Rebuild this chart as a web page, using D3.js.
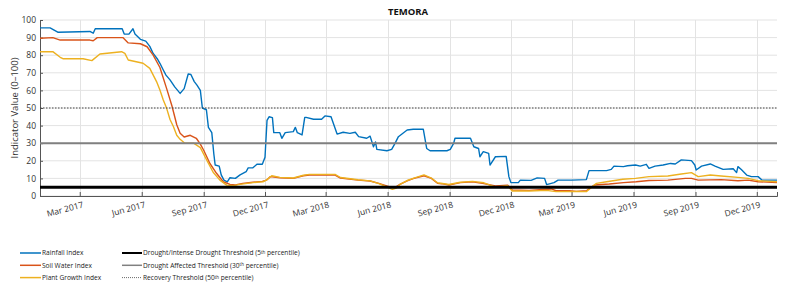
<!DOCTYPE html>
<html><head><meta charset="utf-8">
<script src="https://cdn.jsdelivr.net/npm/d3@7"></script>
<style>
body{margin:0;background:#fff;}
text{font-family:"Open Sans",sans-serif;}
</style></head>
<body>
<svg id="chart" width="800" height="292"></svg>
<script>
const title = "TEMORA";
const yLabel = "Indicator Value (0–100)";
const yTicks = [0,10,20,30,40,50,60,70,80,90,100];
const xTickDates = ["2017-03-01","2017-06-01","2017-09-01","2017-12-01","2018-03-01","2018-06-01","2018-09-01","2018-12-01","2019-03-01","2019-06-01","2019-09-01","2019-12-01"];
const xDomain = ["2017-01-01","2019-12-31"];
const seriesNames = ["Rainfall Index","Soil Water Index","Plant Growth Index"];
const thresholdNames = ["Drought/Intense Drought Threshold (5","Drought Affected Threshold (30","Recovery Threshold (50"];
const thresholdValues = [5,30,50];

const rainfall = [
["2017-01-01",95.5],["2017-01-16",95.5],["2017-01-28",93],["2017-03-16",93.5],["2017-03-21",92.5],["2017-03-24",95],
["2017-05-03",95],["2017-05-06",92],["2017-05-13",92],["2017-05-19",95],["2017-05-22",92],["2017-05-30",89],
["2017-06-07",88],["2017-06-13",85],["2017-06-18",81],["2017-06-24",78],["2017-06-28",75.4],["2017-07-03",71.6],
["2017-07-07",68.7],["2017-07-13",66],["2017-07-20",62],["2017-07-28",58.3],["2017-08-03",61],["2017-08-09",69.3],
["2017-08-13",69],["2017-08-18",65],["2017-08-22",63],["2017-08-27",60],["2017-08-30",50],["2017-09-05",49],
["2017-09-08",39],["2017-09-13",36],["2017-09-16",24],["2017-09-18",17.6],["2017-09-24",17],["2017-09-27",12],
["2017-10-01",9],["2017-10-06",8],["2017-10-10",10.4],["2017-10-18",10],["2017-10-25",12],["2017-11-03",13.8],
["2017-11-06",16],["2017-11-13",16],["2017-11-19",18],["2017-11-27",18],["2017-12-01",22],["2017-12-04",43],
["2017-12-07",45],["2017-12-12",44.5],["2017-12-14",36],["2017-12-23",36],["2017-12-26",32.8],["2017-12-31",36],
["2018-01-12",36.6],["2018-01-15",39],["2018-01-18",36],["2018-01-25",34.7],["2018-01-29",44.7],["2018-01-31",44.7],
["2018-02-11",43.6],["2018-02-23",43.6],["2018-02-28",45.5],["2018-03-09",45],["2018-03-18",35.2],["2018-03-27",36.2],
["2018-04-06",35.6],["2018-04-14",36.2],["2018-04-19",33.7],["2018-05-01",32.8],["2018-05-06",34],["2018-05-11",28],
["2018-05-14",30.7],["2018-05-16",26.5],["2018-05-31",25.7],["2018-06-07",26.5],["2018-06-12",29.9],["2018-06-17",33.7],
["2018-06-30",37.5],["2018-07-09",37.9],["2018-07-24",37.9],["2018-07-29",27],["2018-08-03",25.7],["2018-08-28",25.7],
["2018-09-02",26.5],["2018-09-07",29.9],["2018-09-09",32.8],["2018-10-02",32.8],["2018-10-07",28],["2018-10-14",27],
["2018-10-16",22.3],["2018-10-21",25.2],["2018-10-29",24.2],["2018-10-31",17.6],["2018-11-08",22.3],["2018-11-24",22.5],
["2018-11-28",11],["2018-12-01",7.6],["2018-12-12",7.6],["2018-12-15",9],["2018-12-31",8.9],["2019-01-09",10.3],
["2019-01-20",10],["2019-01-23",6.5],["2019-02-03",7.6],["2019-02-09",9],["2019-03-01",9],["2019-03-23",9.3],
["2019-03-27",14.4],["2019-04-22",14.4],["2019-04-29",15.1],["2019-05-03",17],["2019-05-17",16.7],["2019-05-23",17.2],
["2019-06-04",17.6],["2019-06-11",17],["2019-06-20",18],["2019-06-24",15.7],["2019-07-03",17],["2019-07-15",17.6],
["2019-07-26",18.5],["2019-08-02",18.2],["2019-08-11",20.5],["2019-08-26",20.1],["2019-08-31",17.6],["2019-09-02",14.8],
["2019-09-10",17],["2019-09-23",18.2],["2019-09-30",17],["2019-10-12",15.1],["2019-10-27",15.5],["2019-11-01",13.3],
["2019-11-03",16.7],["2019-11-08",15],["2019-11-16",11.9],["2019-11-23",11],["2019-12-03",11],["2019-12-09",9],
["2019-12-31",9]
];

const soilWater = [
["2017-01-01",89.6],["2017-01-20",90],["2017-01-31",88.6],["2017-03-16",88.6],["2017-03-21",88.2],["2017-03-27",90],
["2017-05-04",90],["2017-05-12",87],["2017-05-30",86.5],["2017-06-09",84.8],["2017-06-18",80],["2017-06-28",73],
["2017-07-08",61],["2017-07-16",51],["2017-07-23",40.5],["2017-07-28",35.6],["2017-08-03",33.5],["2017-08-12",34.5],
["2017-08-21",32.8],["2017-08-27",29.5],["2017-09-01",26],["2017-09-10",18.6],["2017-09-20",12.9],["2017-09-30",8.1],
["2017-10-10",6.6],["2017-10-18",6.3],["2017-10-29",7.2],["2017-11-13",7.8],["2017-11-27",8.3],["2017-12-03",9],
["2017-12-09",11],["2017-12-23",10.4],["2018-01-12",10],["2018-01-27",11.5],["2018-02-05",11.9],["2018-03-15",11.9],
["2018-03-23",10.2],["2018-04-18",9],["2018-05-06",8.5],["2018-05-19",7.2],["2018-06-03",5.3],["2018-06-11",4.6],
["2018-06-20",6.8],["2018-06-30",8.6],["2018-07-10",10],["2018-07-25",11.5],["2018-08-05",10],["2018-08-14",7.2],
["2018-08-20",7],["2018-08-31",6.25],["2018-09-17",7.6],["2018-10-05",8],["2018-10-22",7],["2018-11-08",5.7],
["2018-11-26",6.2],["2018-12-03",3.4],["2018-12-28",3.2],["2019-01-23",3.8],["2019-01-30",4],["2019-02-06",3],
["2019-02-26",3],["2019-03-08",2.6],["2019-03-23",3],["2019-03-30",4.9],["2019-04-04",6.25],["2019-04-26",6.8],
["2019-05-17",7.6],["2019-06-05",8.1],["2019-06-24",8.8],["2019-07-22",9],["2019-08-17",10],["2019-08-26",10],
["2019-09-05",9],["2019-10-09",9.3],["2019-11-03",8.7],["2019-11-18",9],["2019-12-03",8.1],["2019-12-31",7.6]
];

const plantGrowth = [
["2017-01-01",82],["2017-01-20",82],["2017-01-31",78.8],["2017-02-04",78],["2017-03-06",78],["2017-03-19",76.9],
["2017-03-31",80.7],["2017-05-02",82],["2017-05-07",81],["2017-05-12",77.3],["2017-06-03",75.4],["2017-06-13",72.5],
["2017-06-23",65],["2017-06-28",60.2],["2017-07-03",54.5],["2017-07-08",49.8],["2017-07-13",43.5],["2017-07-18",39.5],
["2017-07-23",34.5],["2017-07-28",32.2],["2017-08-04",30],["2017-08-17",30],["2017-08-27",27.5],["2017-09-06",20],
["2017-09-15",13.5],["2017-09-25",9],["2017-10-05",6.2],["2017-10-15",5.9],["2017-10-25",6.6],["2017-11-13",7.6],
["2017-11-28",8.1],["2017-12-03",9],["2017-12-11",11.5],["2017-12-23",10.6],["2018-01-12",10.2],["2018-01-27",11.8],
["2018-02-05",12.3],["2018-03-15",12.3],["2018-03-23",10.5],["2018-04-18",9.2],["2018-05-06",8.6],["2018-05-19",7],
["2018-06-03",4.6],["2018-06-08",3.8],["2018-06-14",4.5],["2018-06-20",6.8],["2018-06-30",8.8],["2018-07-10",10.2],
["2018-07-25",12],["2018-08-05",10.2],["2018-08-14",7.5],["2018-08-31",6.5],["2018-09-17",7.8],["2018-10-05",8.3],
["2018-10-22",7.5],["2018-11-08",5],["2018-11-26",5.8],["2018-12-03",2.8],["2018-12-28",2.8],["2019-01-23",3.2],
["2019-02-06",2.5],["2019-03-08",2.6],["2019-03-23",2.5],["2019-04-02",5.7],["2019-04-07",7.2],["2019-04-22",8.1],
["2019-05-16",9.5],["2019-06-04",10],["2019-06-24",11],["2019-07-22",11.4],["2019-08-11",12.5],["2019-08-26",13.3],
["2019-09-05",11],["2019-09-23",11.9],["2019-10-09",11.4],["2019-11-03",10.6],["2019-11-18",10],["2019-12-03",8.7],
["2019-12-31",8.1]
];

const seriesColors = ["#0072BD","#D95319","#EDB120"];
const parse = d3.timeParse("%Y-%m-%d");
const svg = d3.select("#chart");
const m = {left:40, right:777, top:20, bottom:196};

const x = d3.scaleTime().domain(xDomain.map(parse)).range([m.left, m.right]);
const y = d3.scaleLinear().domain([0,100]).range([m.bottom, m.top]);

// grid
const g = svg.append("g");
g.selectAll(".hg").data(yTicks).join("line")
  .attr("x1", m.left).attr("x2", m.right)
  .attr("y1", d=>y(d)).attr("y2", d=>y(d))
  .attr("stroke","#e3e3e3").attr("stroke-width",1);
g.selectAll(".vg").data(xTickDates).join("line")
  .attr("x1", d=>Math.round(x(parse(d)))+0.5).attr("x2", d=>Math.round(x(parse(d)))+0.5)
  .attr("y1", m.top).attr("y2", m.bottom)
  .attr("stroke","#e3e3e3").attr("stroke-width",1);

// axes
const xAxis = d3.axisBottom(x).tickValues(xTickDates.map(parse)).tickSize(-4).tickFormat(d3.timeFormat("%b %Y"));
const xa = svg.append("g").attr("transform",`translate(0,${m.bottom})`).call(xAxis);
xa.select(".domain").attr("stroke","#555");
xa.selectAll(".tick line").attr("stroke","#555");
xa.selectAll(".tick text")
  .attr("font-size","8.5px").attr("fill","#333")
  .attr("text-anchor","end")
  .attr("transform","translate(2,5) rotate(-15)")
  .attr("dy","0.75em").attr("y",0).attr("x",0);

const yAxis = d3.axisLeft(y).tickValues(yTicks).tickSize(-3).tickPadding(4);
const ya = svg.append("g").attr("transform",`translate(${m.left},0)`).call(yAxis);
ya.select(".domain").attr("stroke","#555");
ya.selectAll(".tick line").attr("stroke","#555");
ya.selectAll(".tick text").attr("font-size","8.5px").attr("fill","#333");

// data lines
const line = d3.line().x(d=>x(parse(d[0]))).y(d=>y(d[1]));
[rainfall, soilWater, plantGrowth].forEach((s,i)=>{
  svg.append("path").datum(s).attr("d", line)
    .attr("fill","none").attr("stroke", seriesColors[i]).attr("stroke-width",1.4)
    .attr("stroke-linejoin","round");
});

// thresholds
const thrStyles = [
  {c:"#000", w:3, dash:null},
  {c:"#808080", w:2, dash:null},
  {c:"#444", w:1, dash:"1.5,1.5"}
];
thresholdValues.forEach((v,i)=>{
  svg.append("line").attr("x1", m.left).attr("x2", m.right)
    .attr("y1", y(v)).attr("y2", y(v))
    .attr("stroke", thrStyles[i].c).attr("stroke-width", thrStyles[i].w)
    .attr("stroke-dasharray", thrStyles[i].dash);
});

// title
svg.append("text").attr("x",408).attr("y",15).attr("text-anchor","middle")
  .attr("font-size","9.5px").attr("font-weight","bold").attr("fill","#111").text(title);

// y label
svg.append("text").attr("transform",`translate(15,${(m.top+m.bottom)/2}) rotate(-90)`)
  .attr("text-anchor","middle").attr("dy","0.35em").attr("font-size","9.5px").attr("fill","#333").text(yLabel);

// legend
const legY = [253, 265.3, 277.6];
seriesNames.forEach((n,i)=>{
  svg.append("line").attr("x1",20).attr("x2",41).attr("y1",legY[i]).attr("y2",legY[i])
    .attr("stroke",seriesColors[i]).attr("stroke-width",1.5);
  svg.append("text").attr("x",42).attr("y",legY[i]).attr("dy","0.35em")
    .attr("font-size","6.6px").attr("fill","#222").text(n);
});
thresholdNames.forEach((n,i)=>{
  svg.append("line").attr("x1",122).attr("x2",142).attr("y1",legY[i]).attr("y2",legY[i])
    .attr("stroke",thrStyles[i].c).attr("stroke-width",thrStyles[i].w===3?2:(thrStyles[i].w===2?1.5:0.8))
    .attr("stroke-dasharray",thrStyles[i].dash?"1,1":null);
  const t = svg.append("text").attr("x",143).attr("y",legY[i]).attr("dy","0.35em")
    .attr("font-size","6.6px").attr("fill","#222");
  t.append("tspan").text(n);
  t.append("tspan").attr("font-size","4.5px").attr("dy","-0.25em").text("th");
  t.append("tspan").attr("dy","0.16em").text(" percentile)");
});
</script>
</body></html>
